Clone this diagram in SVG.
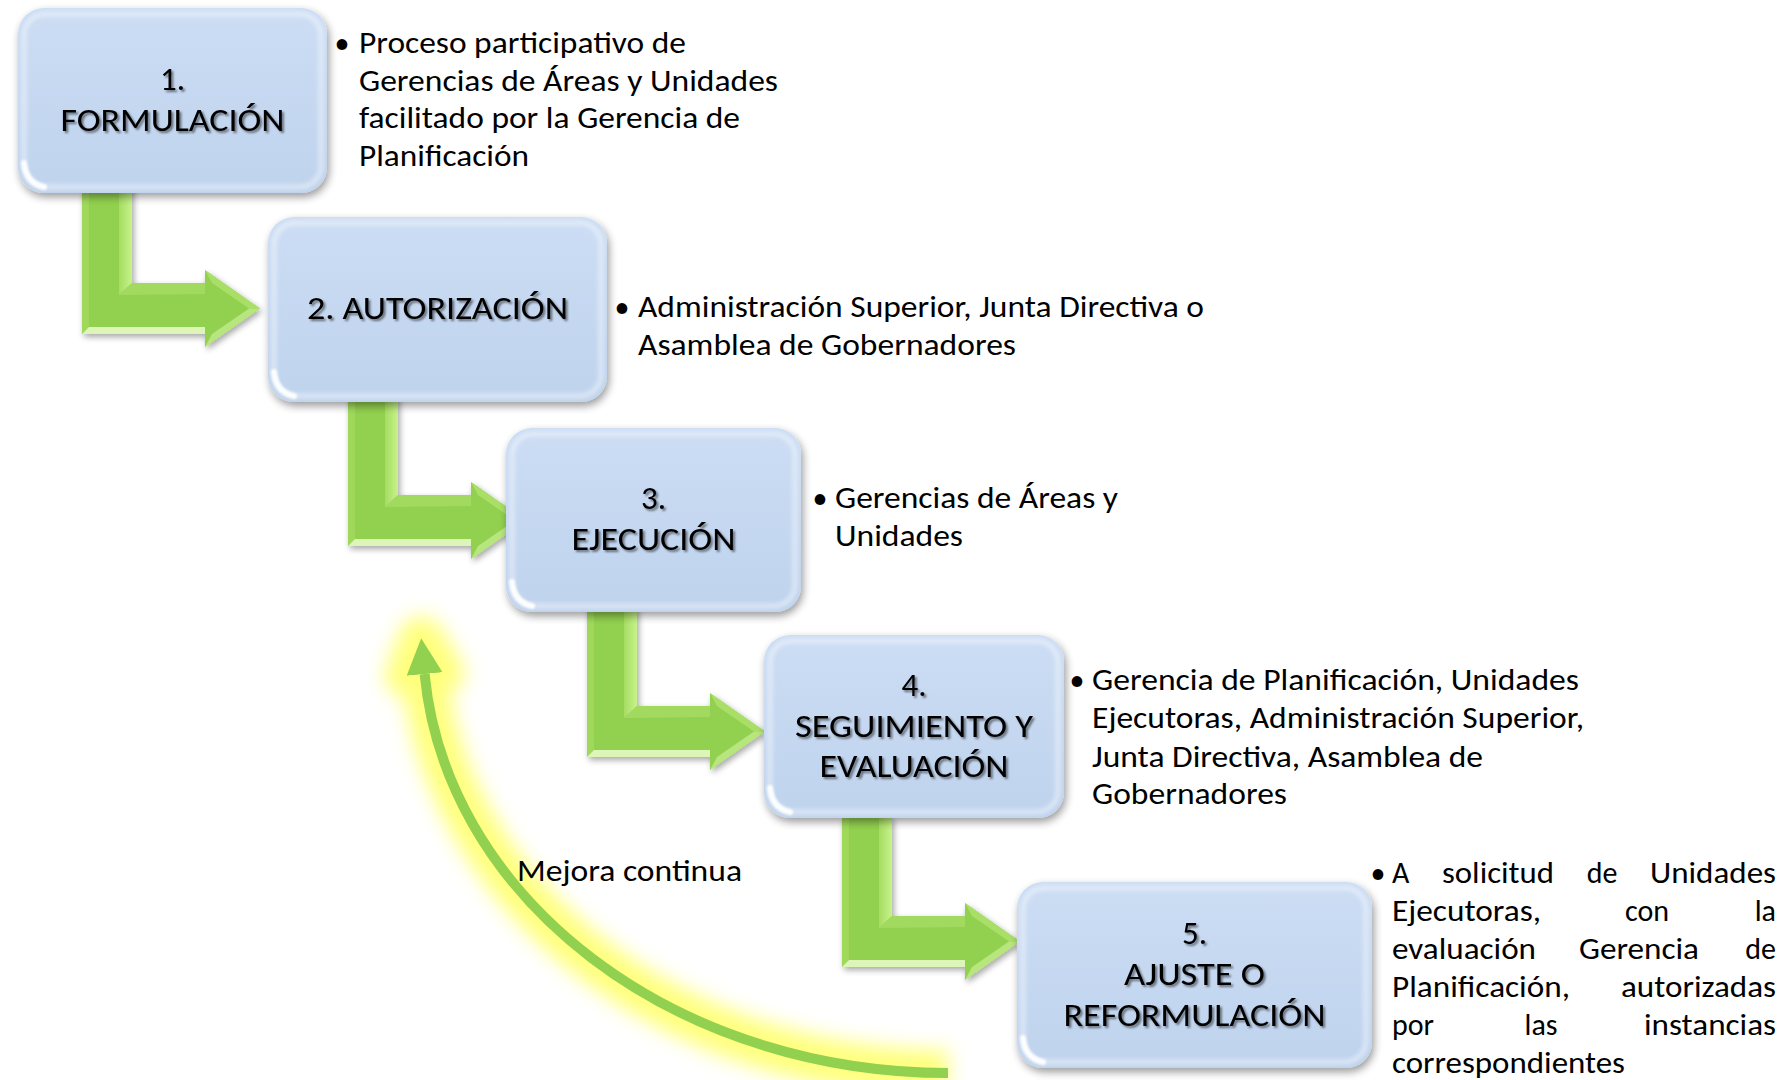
<svg xmlns="http://www.w3.org/2000/svg" xmlns:xlink="http://www.w3.org/1999/xlink" width="1784" height="1080" viewBox="0 0 1784 1080">
<style>
  text { font-family: Carlito, Calibri, Lato, "Liberation Sans", sans-serif; fill: #000; }
  .title { font-size: 33px; text-anchor: middle; filter: url(#txtSh); }
  .body { font-size: 30px; }
  .bul { font-size: 30px; text-anchor: middle; }
  .mid { text-anchor: middle; }
  .end { text-anchor: end; }
  .box { fill: url(#boxGrad); filter: url(#boxSh); }
  .bevel { fill: none; stroke: #ffffff; stroke-width: 5; opacity: 0.45; filter: url(#soft); }
  .gtop { fill: none; stroke: #ffffff; stroke-width: 7; stroke-linecap: round; opacity: 0.7; filter: url(#soft); }
  .glare { fill: none; stroke: #ffffff; stroke-width: 6; stroke-linecap: round; opacity: 0.95; filter: url(#soft1); }
  .arw { filter: url(#arwSh); }
</style>
<defs>
  <linearGradient id="boxGrad" x1="0" y1="0" x2="0" y2="1">
    <stop offset="0" stop-color="#CCDDF4"/>
    <stop offset="1" stop-color="#BFD3ED"/>
  </linearGradient>
  <linearGradient id="rstrip" x1="0" y1="0" x2="1" y2="0">
    <stop offset="0" stop-color="#A6DC62"/>
    <stop offset="1" stop-color="#C6F38A"/>
  </linearGradient>
  <filter id="boxSh" x="-10%" y="-10%" width="125%" height="130%">
    <feGaussianBlur in="SourceAlpha" stdDeviation="4"/>
    <feOffset dx="2" dy="4"/>
    <feComponentTransfer><feFuncA type="linear" slope="0.4"/></feComponentTransfer>
    <feMerge><feMergeNode/><feMergeNode in="SourceGraphic"/></feMerge>
  </filter>
  <filter id="arwSh" x="-20%" y="-20%" width="150%" height="150%">
    <feGaussianBlur in="SourceAlpha" stdDeviation="3"/>
    <feOffset dx="2" dy="3"/>
    <feComponentTransfer><feFuncA type="linear" slope="0.35"/></feComponentTransfer>
    <feMerge><feMergeNode/><feMergeNode in="SourceGraphic"/></feMerge>
  </filter>
  <filter id="soft" x="-10%" y="-10%" width="120%" height="120%"><feGaussianBlur stdDeviation="2"/></filter>
  <filter id="soft1" x="-50%" y="-50%" width="200%" height="200%"><feGaussianBlur stdDeviation="1"/></filter>
  <filter id="txtSh" x="-5%" y="-20%" width="115%" height="160%">
    <feDropShadow dx="2" dy="2" stdDeviation="1" flood-color="#000" flood-opacity="0.5"/>
  </filter>
  <filter id="glow" filterUnits="userSpaceOnUse" x="300" y="540" width="780" height="560">
    <feGaussianBlur stdDeviation="10"/>
  </filter>
  <marker id="arcHead" markerUnits="userSpaceOnUse" markerWidth="36" markerHeight="36" refX="0" refY="18" orient="auto">
    <path d="M0,0 L36,18 L0,36 Z" fill="#92D050"/>
  </marker>
  <g id="bent">
    <path d="M0,-100 H50 V0 H123 V-13 L178,25.5 L123,64 V51 H0 Z" fill="#92D050"/>
    <path d="M0,-100 H7 V44 L0,51 Z" fill="#A0D85C"/>
    <path d="M37,-100 H50 V0 L37,12 Z" fill="url(#rstrip)"/>
    <path d="M37,12 L50,0 H123 V11 Z" fill="#A2DA5F"/>
    <path d="M0,51 L7,44 H123 V51 Z" fill="#DDF5B9"/>
    <path d="M123,-13 L178,25.5 L167,25.5 L130,0 Z" fill="#A9DF66"/>
    <path d="M123,64 L178,25.5 L167,25.5 L130,51 Z" fill="#B8E67E"/>
  </g>
</defs>

<rect x="0" y="0" width="1784" height="1080" fill="#ffffff"/>

<!-- continuous improvement loop -->
<g id="loop">
  <g filter="url(#glow)" opacity="0.9">
    <path d="M948,1073 A525,433 0 0 1 424.6,674" fill="none" stroke="#FFFF6E" stroke-width="46"/>
    <polygon points="421.2,638.2 442.5,672.3 406.7,675.7" fill="#FFFF6E" stroke="#FFFF6E" stroke-width="44" stroke-linejoin="round"/>
  </g>
  <path d="M948,1073 A525,433 0 0 1 424.6,674" fill="none" stroke="#92D050" stroke-width="10" marker-end="url(#arcHead)"/>
  <text class="body" x="517" y="881" textLength="225" lengthAdjust="spacingAndGlyphs">Mejora continua</text>
</g>

<!-- connectors -->
<g id="connectors">
  <use xlink:href="#bent" href="#bent" class="arw" transform="translate(82,283)"/>
  <use xlink:href="#bent" href="#bent" class="arw" transform="translate(348,495)"/>
  <use xlink:href="#bent" href="#bent" class="arw" transform="translate(587,706)"/>
  <use xlink:href="#bent" href="#bent" class="arw" transform="translate(842,916)"/>
</g>

<!-- node 1 -->
<g id="node-1">
  <rect class="box" x="18" y="8" width="309" height="185" rx="26"/>
  <rect class="bevel" x="24" y="14" width="297" height="173" rx="21"/>
  <path class="gtop" d="M44,18 H300"/>
  <path class="glare" d="M24,163 Q26,183 44,187"/>
  <text class="title" x="172.5" y="90">1.</text>
  <text class="title" x="172.5" y="131" textLength="224" lengthAdjust="spacingAndGlyphs">FORMULACIÓN</text>
  <text class="bul" x="342" y="53">•</text>
  <text class="body" x="359" y="53" textLength="327" lengthAdjust="spacingAndGlyphs">Proceso participativo de</text>
  <text class="body" x="359" y="91" textLength="419" lengthAdjust="spacingAndGlyphs">Gerencias de Áreas y Unidades</text>
  <text class="body" x="359" y="128" textLength="381" lengthAdjust="spacingAndGlyphs">facilitado por la Gerencia de</text>
  <text class="body" x="359" y="166" textLength="170" lengthAdjust="spacingAndGlyphs">Planificación</text>
</g>

<!-- node 2 -->
<g id="node-2">
  <rect class="box" x="268" y="217" width="339" height="185" rx="26"/>
  <rect class="bevel" x="274" y="223" width="327" height="173" rx="21"/>
  <path class="gtop" d="M294,227 H580"/>
  <path class="glare" d="M274,372 Q276,392 294,396"/>
  <text class="title" x="437.5" y="319" textLength="261" lengthAdjust="spacingAndGlyphs">2. AUTORIZACIÓN</text>
  <text class="bul" x="622" y="317">•</text>
  <text class="body" x="638" y="317" textLength="566" lengthAdjust="spacingAndGlyphs">Administración Superior, Junta Directiva o</text>
  <text class="body" x="638" y="355" textLength="378" lengthAdjust="spacingAndGlyphs">Asamblea de Gobernadores</text>
</g>

<!-- node 3 -->
<g id="node-3">
  <rect class="box" x="506" y="428" width="295" height="184" rx="26"/>
  <rect class="bevel" x="512" y="434" width="283" height="172" rx="21"/>
  <path class="gtop" d="M532,438 H774"/>
  <path class="glare" d="M512,582 Q514,602 532,606"/>
  <text class="title" x="653.5" y="509">3.</text>
  <text class="title" x="653.5" y="550" textLength="164" lengthAdjust="spacingAndGlyphs">EJECUCIÓN</text>
  <text class="bul" x="820" y="508">•</text>
  <text class="body" x="835" y="508" textLength="283" lengthAdjust="spacingAndGlyphs">Gerencias de Áreas y</text>
  <text class="body" x="835" y="546" textLength="128" lengthAdjust="spacingAndGlyphs">Unidades</text>
</g>

<!-- node 4 -->
<g id="node-4">
  <rect class="box" x="764" y="635" width="300" height="183" rx="26"/>
  <rect class="bevel" x="770" y="641" width="288" height="171" rx="21"/>
  <path class="gtop" d="M790,645 H1037"/>
  <path class="glare" d="M770,788 Q772,808 790,812"/>
  <text class="title" x="914" y="696">4.</text>
  <text class="title" x="914" y="737" textLength="238" lengthAdjust="spacingAndGlyphs">SEGUIMIENTO Y</text>
  <text class="title" x="914" y="777" textLength="189" lengthAdjust="spacingAndGlyphs">EVALUACIÓN</text>
  <text class="bul" x="1077" y="690">•</text>
  <text class="body" x="1092" y="690" textLength="487" lengthAdjust="spacingAndGlyphs">Gerencia de Planificación, Unidades</text>
  <text class="body" x="1092" y="728" textLength="492" lengthAdjust="spacingAndGlyphs">Ejecutoras, Administración Superior,</text>
  <text class="body" x="1092" y="767" textLength="391" lengthAdjust="spacingAndGlyphs">Junta Directiva, Asamblea de</text>
  <text class="body" x="1092" y="804" textLength="195" lengthAdjust="spacingAndGlyphs">Gobernadores</text>
</g>

<!-- node 5 -->
<g id="node-5">
  <rect class="box" x="1017" y="882" width="355" height="186" rx="26"/>
  <rect class="bevel" x="1023" y="888" width="343" height="174" rx="21"/>
  <path class="gtop" d="M1043,892 H1345"/>
  <path class="glare" d="M1023,1038 Q1025,1058 1043,1062"/>
  <text class="title" x="1194.5" y="944">5.</text>
  <text class="title" x="1194.5" y="985" textLength="141" lengthAdjust="spacingAndGlyphs">AJUSTE O</text>
  <text class="title" x="1194.5" y="1026" textLength="262" lengthAdjust="spacingAndGlyphs">REFORMULACIÓN</text>
  <text class="bul" x="1378" y="883">•</text>
  <g>
    <text class="body" x="1392" y="883">A</text>
    <text class="body mid" x="1498" y="883" textLength="112" lengthAdjust="spacingAndGlyphs">solicitud</text>
    <text class="body mid" x="1602" y="883">de</text>
    <text class="body end" x="1776" y="883" textLength="126" lengthAdjust="spacingAndGlyphs">Unidades</text>
    <text class="body" x="1392" y="921" textLength="149" lengthAdjust="spacingAndGlyphs">Ejecutoras,</text>
    <text class="body mid" x="1647" y="921">con</text>
    <text class="body end" x="1776" y="921">la</text>
    <text class="body" x="1392" y="959" textLength="144" lengthAdjust="spacingAndGlyphs">evaluación</text>
    <text class="body mid" x="1639" y="959" textLength="120" lengthAdjust="spacingAndGlyphs">Gerencia</text>
    <text class="body end" x="1776" y="959">de</text>
    <text class="body" x="1392" y="997" textLength="178" lengthAdjust="spacingAndGlyphs">Planificación,</text>
    <text class="body end" x="1776" y="997" textLength="155" lengthAdjust="spacingAndGlyphs">autorizadas</text>
    <text class="body" x="1392" y="1035">por</text>
    <text class="body mid" x="1541" y="1035">las</text>
    <text class="body end" x="1776" y="1035" textLength="132" lengthAdjust="spacingAndGlyphs">instancias</text>
    <text class="body" x="1392" y="1073" textLength="233" lengthAdjust="spacingAndGlyphs">correspondientes</text>
  </g>
</g>
</svg>
